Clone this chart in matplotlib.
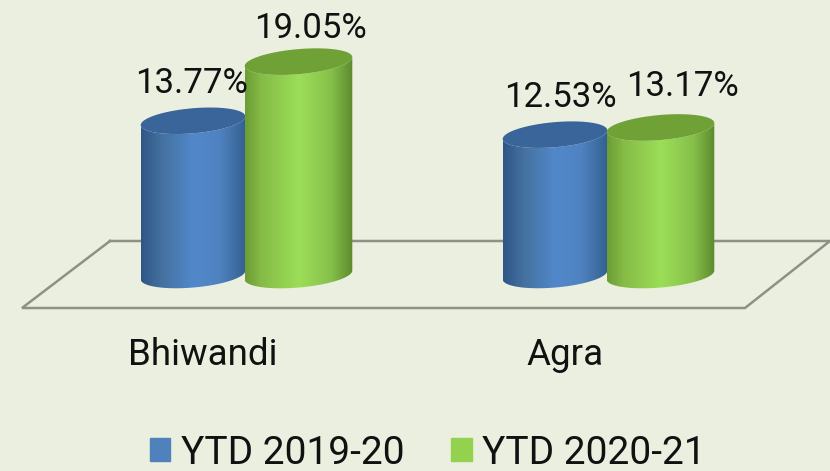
import numpy as np
import matplotlib
matplotlib.use('Agg')
import matplotlib.pyplot as plt
from matplotlib.colors import LinearSegmentedColormap
from matplotlib.patches import Polygon, Rectangle

# Datos
categories = ['Bhiwandi', 'Agra']
series_names = ['YTD 2019-20', 'YTD 2020-21']
values_1920 = [13.77, 12.53]
values_2021 = [19.05, 13.17]

BG = '#ebefdf'
W, H = 830, 471
PX_PER_CAT = 362.0
PX_PER_PCT = 11.2
AXES_BOTTOM_PX = 320
BASE_PX = 275

blue_cmap = LinearSegmentedColormap.from_list('b', [(0, '#2f5687'), (0.2, '#44719f'), (0.5, '#5288cb'), (0.75, '#4f82c0'), (1, '#33608f')])
green_cmap = LinearSegmentedColormap.from_list('g', [(0, '#6c9c35'), (0.15, '#85bb46'), (0.5, '#9cde58'), (0.8, '#86c04a'), (1, '#5c8a2e')])

plt.rcParams['font.family'] = ['Roboto', 'DejaVu Sans']
fig = plt.figure(figsize=(W / 100, H / 100), dpi=100, facecolor=BG)
ax = fig.add_axes([0, 1 - AXES_BOTTOM_PX / H, 1, AXES_BOTTOM_PX / H])
ax.set_facecolor('none')
for s in ax.spines.values():
    s.set_visible(False)


# Elipse inclinada, en unidades de datos
def elipse(xc, yc, a_px, b_px, tilt, t):
    dx = a_px * np.cos(t) * np.cos(tilt) - b_px * np.sin(t) * np.sin(tilt)
    dy = a_px * np.cos(t) * np.sin(tilt) + b_px * np.sin(t) * np.cos(tilt)
    return xc + dx / PX_PER_CAT, yc + dy / PX_PER_PCT


def cilindro(xc, value, a_px, cmap, top_color, z):
    tilt = np.radians(5)
    b_px = 12.5
    half = a_px / PX_PER_CAT
    t_low = np.linspace(np.pi, 2 * np.pi, 60)
    xb, yb = elipse(xc, 0, a_px, b_px, tilt, t_low)
    xt, yt = elipse(xc, value, a_px, b_px, tilt, t_low[::-1])
    pts = np.column_stack([np.r_[xb, xt], np.r_[yb, yt]])
    clip = Polygon(pts, closed=True, transform=ax.transData, facecolor='none', edgecolor='none')
    ax.add_patch(clip)
    grad = np.linspace(0, 1, 256).reshape(1, -1)
    im = ax.imshow(grad, cmap=cmap, aspect='auto', zorder=z,
                   extent=[xc - half, xc + half, -3, value + 3])
    im.set_clip_path(clip)
    t_all = np.linspace(0, 2 * np.pi, 120)
    xe, ye = elipse(xc, value, a_px, b_px, tilt, t_all)
    ax.fill(xe, ye, color=top_color, zorder=z + 0.1, lw=0)


positions = np.arange(len(categories))
a_blue = 52.5
a_green = 54.0
label_shift_px = [[-2, 12], [5, 22]]
label_rise_px = [[37, 33], [37, 41]]

# Plano del suelo
floor_x = np.array([110, 830, 745, 22, 110])
floor_y = np.array([241, 241, 308, 308, 241])
ax.plot((floor_x - 245) / PX_PER_CAT, (BASE_PX - floor_y) / PX_PER_PCT,
        color='#8f9086', lw=1.8, zorder=1, solid_joinstyle='miter', clip_on=False)

for i, p in enumerate(positions):
    xa = p - (a_blue - 0.5) / PX_PER_CAT
    xb = p + (a_green - 0.5) / PX_PER_CAT
    cilindro(xa, values_1920[i], a_blue, blue_cmap, '#3a659b', 2)
    cilindro(xb, values_2021[i], a_green, green_cmap, '#70a137', 3)
    ax.annotate(f'{values_1920[i]:.2f}%', (xa, values_1920[i]), zorder=5,
                xytext=(label_shift_px[i][0] * 0.72, label_rise_px[i][0] * 0.72),
                textcoords='offset points', ha='center', va='center', fontsize=25, color='#111111')
    ax.annotate(f'{values_2021[i]:.2f}%', (xb, values_2021[i]), zorder=5,
                xytext=(label_shift_px[i][1] * 0.72, label_rise_px[i][1] * 0.72),
                textcoords='offset points', ha='center', va='center', fontsize=25, color='#111111')

ax.set_xlim(-245 / PX_PER_CAT, (W - 245) / PX_PER_CAT)
ax.set_ylim((BASE_PX - AXES_BOTTOM_PX) / PX_PER_PCT, BASE_PX / PX_PER_PCT)
ax.set_yticks([])
ax.set_xticks(positions - 42 / PX_PER_CAT)
ax.set_xticklabels(categories, fontsize=26.5, color='#111111')
ax.tick_params(axis='x', length=0, pad=12)

handles = [Rectangle((0, 0), 1, 1, color='#4f81bd'), Rectangle((0, 0), 1, 1, color='#94d14f')]
fig.legend(handles, series_names, loc='center', bbox_to_anchor=(428 / W, 1 - 453 / H), ncol=2,
           frameon=False, fontsize=28, handlelength=0.52, handleheight=0.52,
           handletextpad=0.28, columnspacing=1.2, labelcolor='#111111')

fig.savefig('out.png', dpi=100, facecolor=BG)
